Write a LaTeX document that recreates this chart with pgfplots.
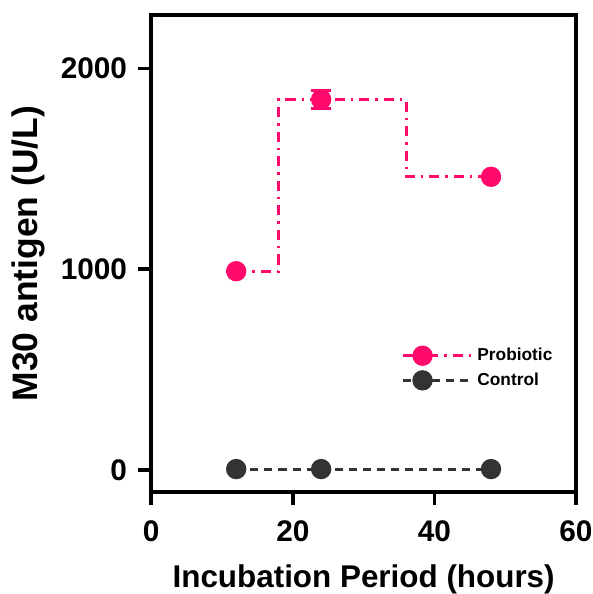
\documentclass[border=0pt]{standalone}
\usepackage{pgfplots}
\pgfplotsset{compat=1.18}
\usepackage{fontspec}
\setmainfont{Liberation Sans}
\definecolor{probio}{HTML}{FF0A6C}
\definecolor{ctrl}{HTML}{333333}
\begin{document}
\begin{tikzpicture}
\begin{axis}[
    scale only axis,
    width=211pt, height=237pt,
    xmin=0, xmax=60,
    ymin=-110, ymax=2265,
    xtick={0,20,40,60},
    ytick={0,1000,2000},
    xtick pos=left, ytick pos=left,
    tick align=outside,
    major tick length=6.5pt,
    every tick/.style={black, line width=1.8pt},
    axis line style={line width=2pt},
    /pgf/number format/assume math mode=true,
    /pgf/number format/1000 sep={},
    ticklabel style={font=\fontsize{14.8}{15}\selectfont\bfseries},
    xticklabel style={inner xsep=0pt, yshift=-4pt},
    yticklabel style={xshift=-2pt},
    xlabel={Incubation Period (hours)},
    ylabel={M30 antigen (U/L)},
    xlabel style={font=\fontsize{15.6}{17}\selectfont\bfseries, inner ysep=0pt},
    ylabel style={font=\fontsize{17.6}{19}\selectfont\bfseries},
    xlabel shift=8pt,
    ylabel shift=1pt,
    legend style={draw=none, fill=none, at={(0.575,0.32)}, anchor=north west,
        font=\fontsize{8.6}{10}\selectfont\bfseries, row sep=0.5pt},
    legend cell align=left,
    legend image code/.code={
        \path (0pt,0pt) -- (34pt,0pt);
        \draw[#1] (0pt,0pt) -- (19pt,0pt);
        \draw[#1, solid] plot coordinates {(9.5pt,0pt)};
    },
]
\addplot[probio, line width=1.5pt, dash pattern=on 5pt off 3pt on 1.2pt off 3pt,
    const plot mark mid, mark=*, mark size=4.3pt,
    mark options={solid},
    error bars/.cd, y dir=both, y explicit,
    error bar style={solid, line width=1.5pt},
    error mark options={rotate=90, mark size=5pt, line width=1.5pt, solid}]
    coordinates {(12,990) +- (0,0) (24,1845) +- (0,45) (48,1460) +- (0,0)};
\addlegendentry{Probiotic}
\addplot[ctrl, line width=1.5pt, dash pattern=on 4pt off 3pt,
    mark=*, mark size=4.3pt, mark options={solid}]
    coordinates {(12,5) (24,5) (48,5)};
\addlegendentry{Control}
\end{axis}
\path ([yshift=7.5pt]current axis.north);
\path ([xshift=-2.5pt]current axis.outer west);
\end{tikzpicture}
\end{document}
